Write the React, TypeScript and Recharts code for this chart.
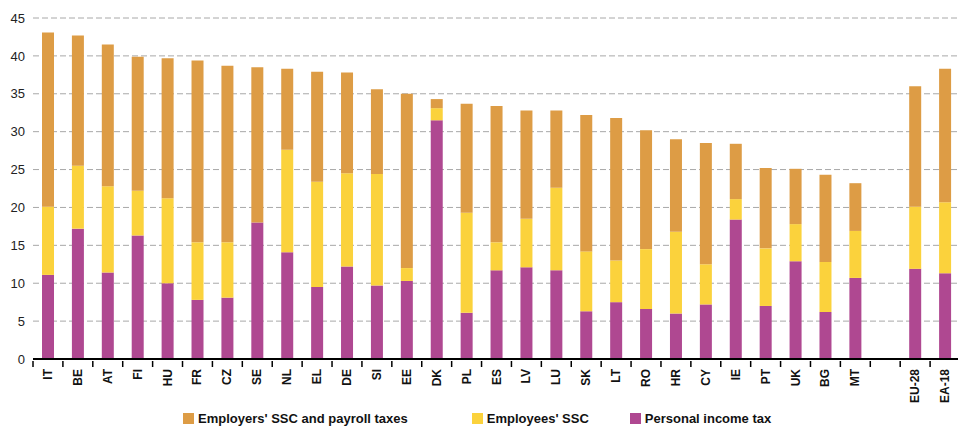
import React from "react";
import { BarChart, Bar, XAxis, YAxis, CartesianGrid, Legend } from "recharts";

// tax wedge components, % of labour costs
const countries = [
    "IT", "BE", "AT", "FI", "HU", "FR", "CZ", "SE", "NL", "EL", "DE", "SI", "EE", "DK",
    "PL", "ES", "LV", "LU", "SK", "LT", "RO", "HR", "CY", "IE", "PT", "UK", "BG", "MT",
    "", "EU-28", "EA-18",
];
const incomeTax = [
    11.1, 17.2, 11.4, 16.3, 10.0, 7.8, 8.1, 18.0, 14.1, 9.5, 12.2, 9.7, 10.3, 31.5,
    6.1, 11.7, 12.1, 11.7, 6.3, 7.5, 6.6, 6.0, 7.2, 18.4, 7.0, 12.9, 6.2, 10.7,
    null, 11.9, 11.3,
];
const employeesSsc = [
    9.0, 8.3, 11.4, 5.9, 11.2, 7.6, 7.3, 0, 13.5, 13.9, 12.3, 14.7, 1.7, 1.6,
    13.2, 3.7, 6.4, 10.9, 7.9, 5.5, 7.9, 10.8, 5.3, 2.7, 7.6, 4.9, 6.6, 6.2,
    null, 8.2, 9.4,
];
const employersSsc = [
    23.0, 17.2, 18.7, 17.7, 18.5, 24.0, 23.3, 20.5, 10.7, 14.5, 13.3, 11.2, 23.0, 1.2,
    14.4, 18.0, 14.3, 10.2, 18.0, 18.8, 15.7, 12.2, 16.0, 7.3, 10.6, 7.3, 11.5, 6.3,
    null, 15.9, 17.6,
];
const yTicks = [0, 5, 10, 15, 20, 25, 30, 35, 40, 45];

const COLORS = {
    employers: "#DD9C45",
    employees: "#FBD23C",
    income: "#AF4891",
};

const data = countries.map((c, i) => ({
    country: c,
    income: incomeTax[i],
    employees: employeesSsc[i],
    employers: employersSsc[i],
}));

const FONT = "'Liberation Sans', Arial, sans-serif";

const CountryTick = (props: any) => {
    const { x, y, payload } = props;
    const half = payload && payload.offset ? payload.offset : 15;
    return (
        <g>
            <line x1={x - half} y1={y - 6} x2={x - half} y2={y} stroke="#000" strokeWidth={1.5} />
            <text
                x={x + 4}
                y={y + 2}
                transform={`rotate(-90, ${x + 4}, ${y + 2})`}
                textAnchor="end"
                fontSize={12}
                fontWeight="bold"
                fontFamily={FONT}
                fill="#111"
            >
                {payload.value}
            </text>
        </g>
    );
};

const legendItems = [
    { key: "employers", label: "Employers' SSC and payroll taxes", gap: 183 },
    { key: "employees", label: "Employees' SSC", gap: 64 },
    { key: "income", label: "Personal income tax", gap: 41 },
];

const ChartLegend = () => (
    <div style={{ display: "flex", alignItems: "center", height: 20, fontFamily: FONT }}>
        {legendItems.map((it) => (
            <div key={it.key} style={{ display: "flex", alignItems: "center", marginLeft: it.gap }}>
                <span
                    style={{
                        display: "inline-block",
                        width: 11,
                        height: 11,
                        background: (COLORS as any)[it.key],
                        marginRight: 4,
                    }}
                />
                <span style={{ fontSize: 13, fontWeight: "bold", color: "#111" }}>{it.label}</span>
            </div>
        ))}
    </div>
);

export default function App() {
    return (
        <div style={{ position: "absolute", left: 0, top: 0, width: 958, height: 428, overflow: "hidden", background: "#fff" }}>
            <BarChart
                width={960}
                height={428}
                data={data}
                margin={{ top: 18, right: 0, left: 0, bottom: 0 }}
                barSize={12}
            >
                <CartesianGrid vertical={false} stroke="#a8a8a8" strokeDasharray="6 3" />
                <XAxis
                    dataKey="country"
                    interval={0}
                    height={49}
                    tickLine={false}
                    axisLine={{ stroke: "#000", strokeWidth: 2 }}
                    tick={<CountryTick />}
                />
                <YAxis
                    domain={[0, 45]}
                    ticks={yTicks}
                    width={33}
                    axisLine={false}
                    tickLine={false}
                    tick={{ fontSize: 13, fill: "#222", fontFamily: FONT }}
                />
                <Legend
                    verticalAlign="bottom"
                    content={<ChartLegend />}
                    wrapperStyle={{ left: 0, width: 958, height: 20 }}
                />
                <Bar dataKey="income" stackId="a" fill={COLORS.income} isAnimationActive={false} />
                <Bar dataKey="employees" stackId="a" fill={COLORS.employees} isAnimationActive={false} />
                <Bar dataKey="employers" stackId="a" fill={COLORS.employers} isAnimationActive={false} />
            </BarChart>
        </div>
    );
}
